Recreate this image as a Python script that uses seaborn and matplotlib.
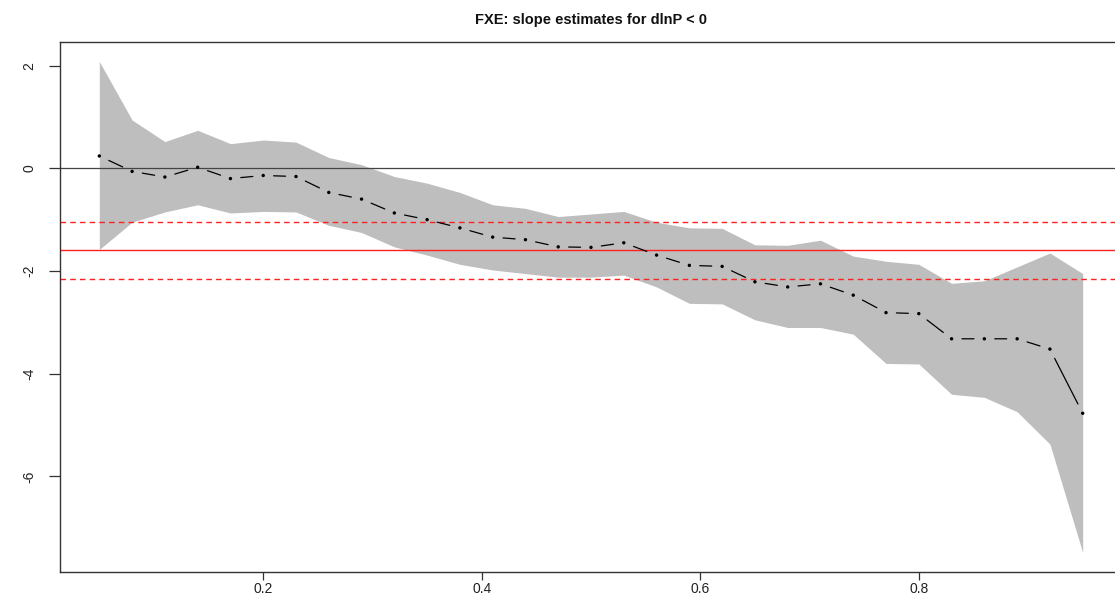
import numpy as np
import pandas as pd
import matplotlib
matplotlib.use("Agg")
import matplotlib.pyplot as plt
import seaborn as sns

# ---- data ----
tau = [0.05, 0.08, 0.11, 0.14, 0.17, 0.20, 0.23, 0.26, 0.29, 0.32,
       0.35, 0.38, 0.41, 0.44, 0.47, 0.50, 0.53, 0.56, 0.59, 0.62,
       0.65, 0.68, 0.71, 0.74, 0.77, 0.80, 0.83, 0.86, 0.89, 0.92, 0.95]
estimate = [0.24, -0.06, -0.17, 0.02, -0.20, -0.14, -0.16, -0.47, -0.60, -0.87,
            -1.00, -1.16, -1.34, -1.39, -1.53, -1.54, -1.45, -1.69, -1.89, -1.91,
            -2.21, -2.31, -2.25, -2.47, -2.81, -2.83, -3.32, -3.32, -3.32, -3.52, -4.77]
upper = [2.08, 0.94, 0.52, 0.74, 0.48, 0.55, 0.51, 0.21, 0.07, -0.16,
         -0.29, -0.47, -0.71, -0.78, -0.94, -0.89, -0.84, -1.05, -1.16, -1.17,
         -1.49, -1.50, -1.40, -1.71, -1.81, -1.87, -2.24, -2.19, -1.92, -1.65, -2.05]
lower = [-1.58, -1.05, -0.85, -0.71, -0.87, -0.84, -0.85, -1.11, -1.25, -1.53,
         -1.69, -1.87, -1.98, -2.05, -2.12, -2.12, -2.08, -2.31, -2.63, -2.64,
         -2.95, -3.10, -3.10, -3.23, -3.80, -3.81, -4.40, -4.46, -4.74, -5.37, -7.48]
ols_estimate = -1.60
ols_ci = [-1.05, -2.16]
xticks = [0.2, 0.4, 0.6, 0.8]
yticks = [2, 0, -2, -4, -6]
title = "FXE: slope estimates for dlnP < 0"

df = pd.DataFrame({"tau": tau, "est": estimate, "lo": lower, "hi": upper})

sns.set_theme(style="ticks")
plt.rcParams["font.family"] = ["Liberation Sans", "DejaVu Sans"]

fig = plt.figure(figsize=(11.15, 6.01), dpi=100)
ax = fig.add_axes([0.0538, 0.0483, 0.9525, 0.8819])

# confidence band
ax.fill_between(df["tau"], df["lo"], df["hi"], color="#BEBEBE", linewidth=0, zorder=1)

# reference lines
ax.axhline(0, color="#444444", lw=0.9, zorder=2)
ax.axhline(ols_estimate, color="#FF2020", lw=1.0, zorder=2)
for v in ols_ci:
    ax.axhline(v, color="#FF2020", lw=1.0, ls=(0, (4, 3)), zorder=2)

# R type="b": points with line segments leaving gaps around them
for i in range(len(df) - 1):
    ax.annotate("", xy=(df["tau"][i + 1], df["est"][i + 1]),
                xytext=(df["tau"][i], df["est"][i]),
                arrowprops=dict(arrowstyle="-", color="black", lw=0.9,
                                shrinkA=7.5, shrinkB=7.5), zorder=3)
sns.scatterplot(data=df, x="tau", y="est", ax=ax, color="black", s=6,
                edgecolor="none", zorder=4, legend=False)

ax.set_xlim(0.014, 0.986)
ax.set_ylim(-7.86, 2.46)
ax.set_xticks(xticks)
ax.set_xticklabels([f"{t:.1f}" for t in xticks], fontsize=10)
ax.set_yticks(yticks)
ax.set_yticklabels([str(t) for t in yticks], fontsize=10, rotation=90, va="center")
ax.set_xlabel("")
ax.set_ylabel("")
ax.tick_params(axis="x", bottom=True, direction="out", length=5.5, width=0.9,
               color="#333333", pad=2, labelcolor="#222222")
ax.tick_params(axis="y", left=True, direction="out", length=8, width=0.9,
               color="#333333", pad=9, labelcolor="#222222")
for s in ["left", "bottom", "top", "right"]:
    ax.spines[s].set_visible(True)
    ax.spines[s].set_color("#333333")
    ax.spines[s].set_linewidth(1.0)
ax.set_title(title, fontsize=10.5, fontweight="bold", pad=13, color="#111111")

fig.savefig("out.png", dpi=100)
